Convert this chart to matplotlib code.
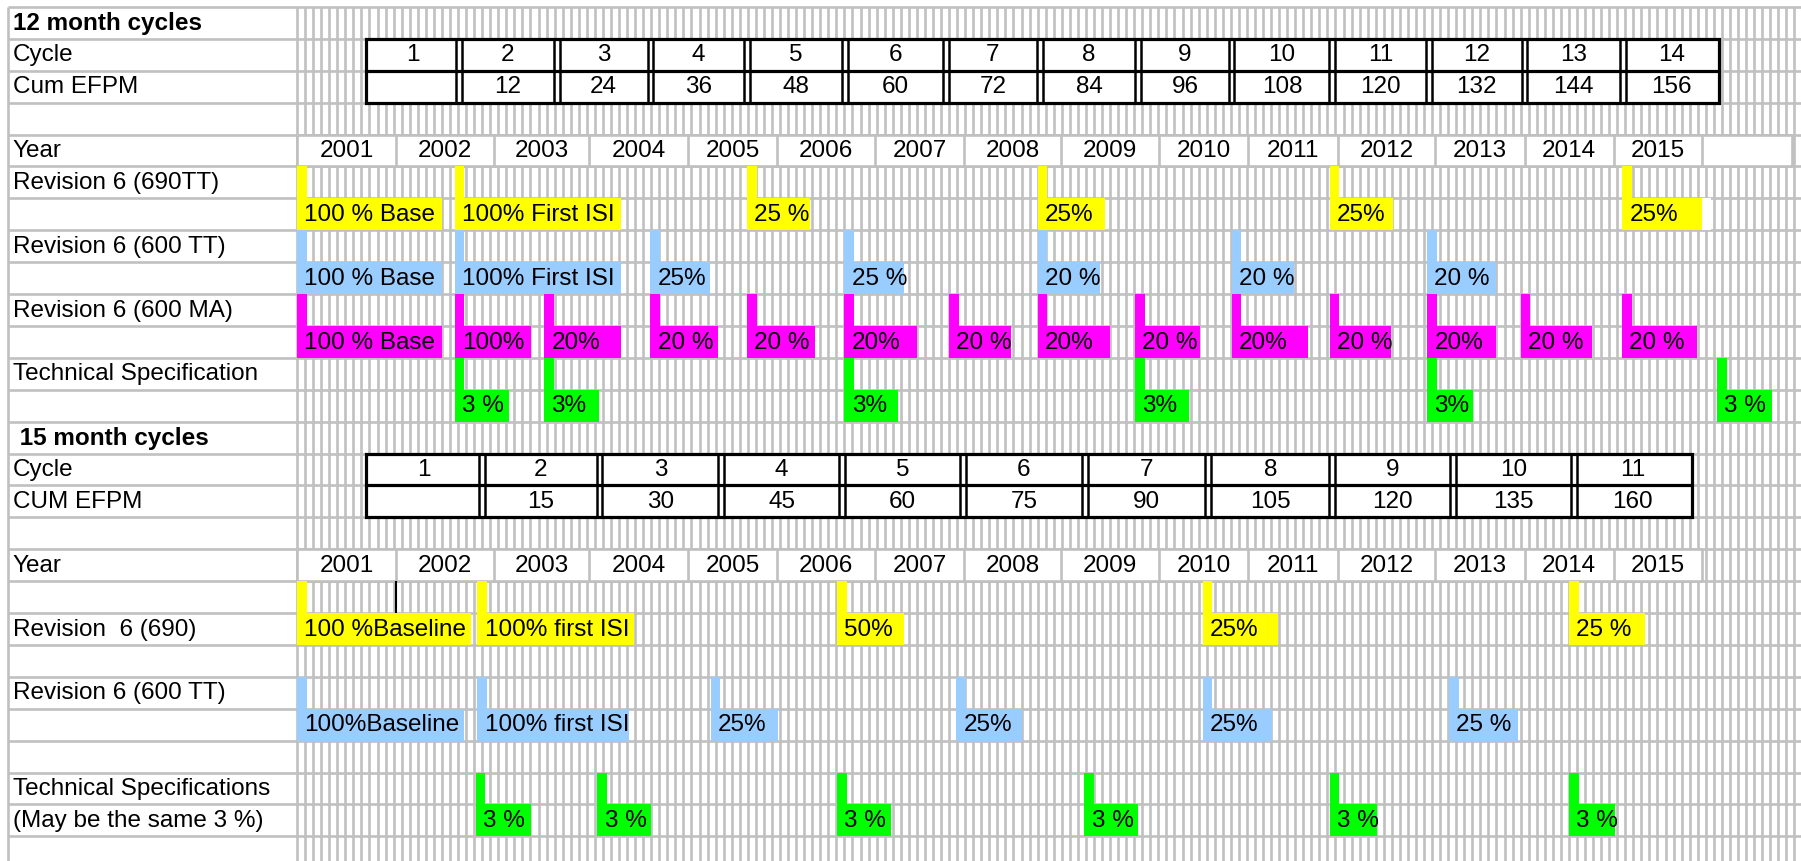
import matplotlib.pyplot as plt
from matplotlib.patches import Rectangle

plt.rcParams['font.family'] = ['Liberation Sans', 'DejaVu Sans']

# x is measured in sheet columns (about one month each), y in sheet rows
years = list(range(2001, 2016))
year_edges = [0, 12.3, 24.5, 36.3, 48.6, 59.6, 71.8, 82.9, 94.9, 107.1,
              118.1, 129.3, 141.4, 152.5, 163.6, 174.5]

cycles_12 = list(range(1, 15))
efpm_12 = ['', 12, 24, 36, 48, 60, 72, 84, 96, 108, 120, 132, 144, 156]
cycle_edges_12 = [8.6, 20.1, 32.3, 43.9, 55.9, 68.1, 80.6, 92.3, 104.5,
                  116.1, 128.6, 140.6, 152.5, 164.7, 176.7]

cycles_15 = list(range(1, 12))
efpm_15 = ['', 15, 30, 45, 60, 75, 90, 105, 120, 135, 160]
cycle_edges_15 = [8.6, 23.0, 37.6, 52.7, 67.7, 82.7, 97.9, 113.2, 128.6,
                  143.6, 158.6, 173.3]

# (start column, end column, text)
rev690tt_12 = [(0, 18.0, '100 % Base'), (19.6, 40.2, '100% First ISI'),
               (55.9, 63.7, '25 %'), (92.0, 100.4, '25%'),
               (128.3, 136.1, '25%'), (164.6, 174.5, '25%')]
rev600tt_12 = [(0, 18.0, '100 % Base'), (19.6, 40.2, '100% First ISI'),
               (43.9, 51.3, '25%'), (68.0, 75.4, '25 %'), (92.0, 99.8, '20 %'),
               (116.1, 123.9, '20 %'), (140.4, 148.9, '20 %')]
rev600ma_12 = [(0, 18.0, '100 % Base'), (19.6, 29.1, '100%'), (30.7, 40.2, '20%'),
               (43.9, 52.3, '20 %'), (55.9, 64.3, '20 %'), (68.0, 77.0, '20%'),
               (81.0, 88.7, '20 %'), (92.0, 101.0, '20%'), (104.1, 112.2, '20 %'),
               (116.1, 125.6, '20%'), (128.3, 135.9, '20 %'), (140.4, 148.9, '20%'),
               (152.0, 160.9, '20 %'), (164.6, 173.9, '20 %')]
techspec_12 = [(19.6, 26.3, '3 %'), (30.7, 37.5, '3%'), (68.0, 74.7, '3%'),
               (104.1, 110.8, '3%'), (140.4, 146.1, '3%'), (176.4, 183.2, '3 %')]

rev690_15 = [(0, 21.6, '100 %Baseline'), (22.4, 41.9, '100% first ISI'),
             (67.1, 75.4, '50%'), (112.5, 121.9, '25%'), (158.0, 167.5, '25 %')]
rev600tt_15 = [(0, 20.7, '100%Baseline'), (22.4, 41.2, '100% first ISI'),
               (51.4, 59.8, '25%'), (81.9, 90.1, '25%'), (112.5, 121.1, '25%'),
               (143.1, 151.7, '25 %')]
techspec_15 = [(22.2, 29.1, '3 %'), (37.3, 44.0, '3 %'), (67.1, 73.8, '3 %'),
               (97.8, 104.5, '3 %'), (128.3, 134.1, '3 %'), (158.0, 163.7, '3 %')]

row_labels = ['12 month cycles', 'Cycle', 'Cum EFPM', '', 'Year',
              'Revision 6 (690TT)', '', 'Revision 6 (600 TT)', '',
              'Revision 6 (600 MA)', '', 'Technical Specification', '',
              ' 15 month cycles', 'Cycle', 'CUM EFPM', '', 'Year', '',
              'Revision  6 (690)', '', 'Revision 6 (600 TT)', '', '',
              'Technical Specifications', '(May be the same 3 %)']
bold_rows = [0, 13]

YELLOW = '#ffff00'
BLUE = '#99ccff'
MAGENTA = '#ff00ff'
GREEN = '#00ff00'
GRID = '#c0c0c0'

COL_PX = 8.05
ROW_PX = 31.9
FS = 17.5
TICK_W = 1.2
GLW = 1.9

fig = plt.figure(figsize=(18.01, 8.61), dpi=100)
ax = fig.add_axes([0, 0, 1, 1])
ax.axis('off')
x_left = -297 / COL_PX
x_right = (1801 - 297) / COL_PX
y_bot = (861 - 7) / ROW_PX
ax.set_xlim(x_left, x_right)
ax.set_ylim(y_bot, -7 / ROW_PX)
label_x0 = (8 - 297) / COL_PX

# base grid
ax.vlines(range(0, int(x_right) + 1), 0, y_bot, color=GRID, lw=GLW, zorder=1)
ax.vlines(label_x0, 0, y_bot, color=GRID, lw=GLW, zorder=1)
ax.hlines(range(0, 27), label_x0, x_right, color=GRID, lw=GLW, zorder=1)

for r, txt in enumerate(row_labels):
    if txt:
        ax.text(label_x0 + 0.6, r + 0.52, txt, fontsize=FS, va='center', ha='left',
                fontweight='bold' if r in bold_rows else 'normal', zorder=3)


def year_row(row, right_edge=None):
    edges = year_edges + ([right_edge] if right_edge else [])
    ax.add_patch(Rectangle((edges[0], row), edges[-1] - edges[0], 1,
                           facecolor='white', edgecolor='none', zorder=2))
    ax.vlines(edges, row, row + 1, color=GRID, lw=GLW, zorder=3)
    ax.hlines([row, row + 1], edges[0], edges[-1], color=GRID, lw=GLW, zorder=3)
    for y, a, b in zip(years, year_edges[:-1], year_edges[1:]):
        ax.text((a + b) / 2, row + 0.52, str(y), fontsize=FS, ha='center',
                va='center', zorder=4)


def cycle_table(row, edges, cycles, efpm):
    ax.add_patch(Rectangle((edges[0], row), edges[-1] - edges[0], 2,
                           facecolor='white', edgecolor='black', lw=2.3, zorder=3))
    ax.hlines(row + 1, edges[0], edges[-1], color='black', lw=2.3, zorder=4)
    for e in edges[1:-1]:
        ax.vlines([e - 0.35, e + 0.35], row, row + 2, color='black', lw=1.8, zorder=4)
    for c, v, a, b in zip(cycles, efpm, edges[:-1], edges[1:]):
        ax.text((a + b) / 2, row + 0.52, str(c), fontsize=FS, ha='center',
                va='center', zorder=5)
        ax.text((a + b) / 2, row + 1.52, str(v), fontsize=FS, ha='center',
                va='center', zorder=5)


def events(items, tick_row, color):
    for s, e, txt in items:
        ax.add_patch(Rectangle((s, tick_row), TICK_W, 1, facecolor=color,
                               edgecolor='none', zorder=5))
        ax.add_patch(Rectangle((s, tick_row + 1), e - s, 1, facecolor=color,
                               edgecolor='none', zorder=5))
        ax.text(s + 0.9, tick_row + 1.52, txt, fontsize=FS, ha='left',
                va='center', zorder=6)


# 12 month cycles
cycle_table(1, cycle_edges_12, cycles_12, efpm_12)
year_row(4, right_edge=185.7)
events(rev690tt_12, 5, YELLOW)
ax.add_patch(Rectangle((rev690tt_12[-1][1], 6), 1.2, 1, facecolor='white',
                       edgecolor='none', zorder=5))
events(rev600tt_12, 7, BLUE)
events(rev600ma_12, 9, MAGENTA)
events(techspec_12, 11, GREEN)

# 15 month cycles
cycle_table(14, cycle_edges_15, cycles_15, efpm_15)
year_row(17)
events(rev690_15, 18, YELLOW)
ax.vlines(year_edges[1], 18, 19, color='black', lw=1.5, zorder=6)
events(rev600tt_15, 21, BLUE)
events(techspec_15, 24, GREEN)

fig.savefig('out.png', dpi=100, facecolor='white')
